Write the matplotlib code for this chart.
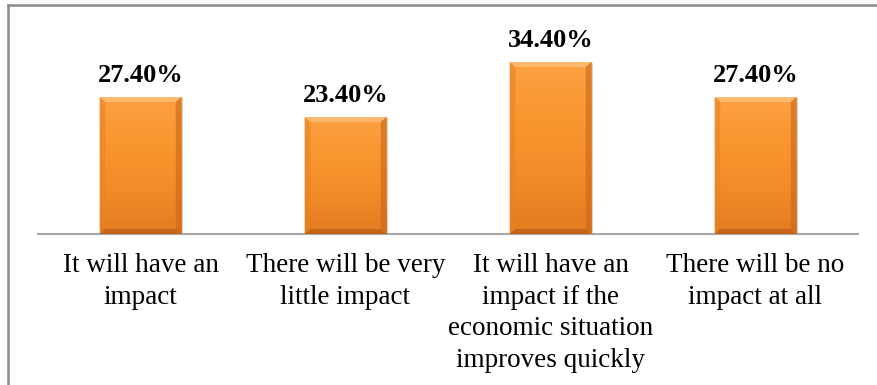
import matplotlib.pyplot as plt
import numpy as np
from matplotlib.colors import LinearSegmentedColormap
from matplotlib.lines import Line2D

plt.rcParams['font.family'] = ['Liberation Serif', 'DejaVu Serif']

categories = ['It will have an\nimpact',
              'There will be very\nlittle impact',
              'It will have an\nimpact if the\neconomic situation\nimproves quickly',
              'There will be no\nimpact at all']
values = [27.4, 23.4, 34.4, 27.4]
labels = ['27.40%', '23.40%', '34.40%', '27.40%']

fig = plt.figure(figsize=(8.77, 3.85), dpi=100)
ax = fig.add_axes([38 / 877, 1 - 234 / 385, 820 / 877, 200 / 385])

x = np.arange(len(categories))
bars = ax.bar(x, values, width=0.40, color='#F7902E', edgecolor='none', zorder=2)

# vertical orange gradient with a soft bevel on each bar
cmap = LinearSegmentedColormap.from_list('orange', ['#FCA143', '#F9962F', '#F28B28', '#E37B20'])
grad = np.linspace(0, 1, 256).reshape(-1, 1)
for b in bars:
    x0, w, h = b.get_x(), b.get_width(), b.get_height()
    im = ax.imshow(grad, cmap=cmap, aspect='auto', extent=(x0, x0 + w, 0, h),
                   origin='upper', zorder=3)
    im.set_clip_path(b)
    dx = w * 0.07
    dy = 1.0
    # light top edge, darker sides and bottom
    ax.fill([x0, x0 + w, x0 + w - dx, x0 + dx], [h, h, h - dy, h - dy],
            color='#FFC078', alpha=0.8, lw=0, zorder=4)
    ax.fill([x0, x0 + dx, x0 + dx, x0], [0, dy, h - dy, h],
            color='#E9821F', alpha=0.6, lw=0, zorder=4)
    ax.fill([x0 + w, x0 + w - dx, x0 + w - dx, x0 + w], [0, dy, h - dy, h],
            color='#C9661A', alpha=0.6, lw=0, zorder=4)
    ax.fill([x0, x0 + w, x0 + w - dx, x0 + dx], [0, 0, dy, dy],
            color='#B85C18', alpha=0.7, lw=0, zorder=4)
    ax.plot([x0 + w, x0 + w], [0.2, h - 0.3], color='#9A9A9A', lw=1.2, alpha=0.5, zorder=1.5)

for b, lab in zip(bars, labels):
    ax.annotate(lab, (b.get_x() + b.get_width() / 2, b.get_height()),
                xytext=(0, 7), textcoords='offset points',
                ha='center', va='bottom', fontsize=19, fontweight='bold')

ax.set_xlim(-0.5, len(categories) - 0.5)
ax.set_ylim(0, 40)
ax.set_xticks(x)
ax.set_xticklabels(categories, fontsize=19.5, linespacing=1.34)
ax.tick_params(axis='x', length=0, pad=14)
ax.set_yticks([])
for s in ['top', 'right', 'left']:
    ax.spines[s].set_visible(False)
ax.spines['bottom'].set_color('#A6A6A6')
ax.spines['bottom'].set_linewidth(1.5)

# chart frame (left and top edges)
fig.add_artist(Line2D([8 / 877, 8 / 877], [0, 1 - 5 / 385], color='#8C8C8C', lw=1.8))
fig.add_artist(Line2D([8 / 877, 1], [1 - 5 / 385, 1 - 5 / 385], color='#8C8C8C', lw=1.8))

fig.savefig('out.png', dpi=100)
